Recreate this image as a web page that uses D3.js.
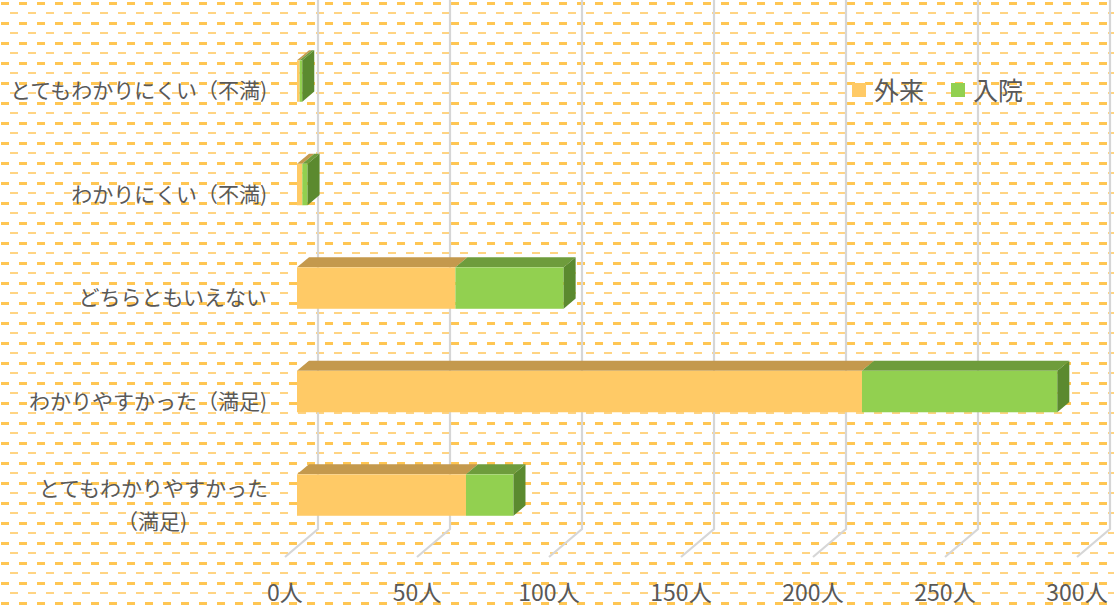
<!DOCTYPE html>
<html>
<head>
<meta charset="utf-8">
<script src="https://cdn.jsdelivr.net/npm/d3@7"></script>
<style>
  body { margin: 0; background: #ffffff; }
  svg { display: block; }
  text { font-family: "Noto Sans CJK JP", "Noto Sans", sans-serif; fill: #595959; }
</style>
</head>
<body>
<div id="chart"></div>
<script>
// chart data
var categories = ["とてもわかりにくい（不満)", "わかりにくい（不満)", "どちらともいえない", "わかりやすかった（満足)", "とてもわかりやすかった（満足)"];
var outpatient = [1, 2, 60, 214, 64];
var inpatient = [1, 2, 41, 74, 18];
var seriesNames = ["外来", "入院"];
var tickValues = [0, 50, 100, 150, 200, 250, 300];
var tickLabels = ["0人", "50人", "100人", "150人", "200人", "250人", "300人"];

var width = 1114, height = 609;

// face colours for each series: front, top, side
var faceColors = [
    {front: "#FFCA66", top: "#C4994D", side: "#A9823E"},
    {front: "#92D050", top: "#6E9C3C", side: "#5B8A2F"}
];

// oblique depth of the whole plot, and where the bars sit in it
var depthX = 33, depthY = -28;
var barZ0 = 12 / 33, barZ1 = 24 / 33;

var svg = d3.select("#chart").append("svg")
    .attr("width", width)
    .attr("height", height);

// dashed background pattern
var defs = svg.append("defs");
var pat = defs.append("pattern")
    .attr("id", "dashes")
    .attr("patternUnits", "userSpaceOnUse")
    .attr("width", 18)
    .attr("height", 20);
pat.append("rect").attr("x", 0).attr("y", 0).attr("width", 18).attr("height", 20).attr("fill", "#ffffff");
pat.append("rect").attr("x", 1).attr("y", 2).attr("width", 8).attr("height", 3).attr("fill", "#FFC653");
pat.append("rect").attr("x", 10).attr("y", 12).attr("width", 8).attr("height", 2).attr("fill", "#FFD483");

svg.append("rect")
    .attr("width", width)
    .attr("height", height)
    .attr("fill", "url(#dashes)");

// scales live on the front plane of the floor
var xScale = d3.scaleLinear()
    .domain([0, 300])
    .range([285, 1077]);

var yScale = d3.scaleBand()
    .domain(categories)
    .range([39.5, 557])
    .paddingInner(0.6)
    .paddingOuter(0.3);

function proj(x, y, z) {
    return [x + depthX * z, y + depthY * z];
}

// gridlines: back wall plus the floor diagonal
var floorY = yScale.range()[1];
svg.append("g")
    .selectAll("path")
    .data(tickValues)
    .enter()
    .append("path")
    .attr("d", function(d) {
        var back = proj(xScale(d), floorY, 1);
        return "M" + back[0] + ",0L" + back[0] + "," + back[1] + "L" + xScale(d) + "," + floorY;
    })
    .attr("fill", "none")
    .attr("stroke", "#D6D6D6")
    .attr("stroke-width", 2.2);

// stacked segments
var segments = [];
categories.forEach(function(c, i) {
    var vals = [outpatient[i], inpatient[i]];
    var start = 0;
    vals.forEach(function(v, s) {
        segments.push({cat: c, s: s, x0: start, x1: start + v, last: s == vals.length - 1});
        start += v;
    });
});

function poly(pts) {
    return "M" + pts.map(function(p) { return p[0] + "," + p[1]; }).join("L") + "Z";
}

var bars = svg.append("g");
segments.forEach(function(d) {
    var xa = xScale(d.x0), xb = xScale(d.x1);
    var yt = yScale(d.cat), yb = yt + yScale.bandwidth();
    if (xb - xa <= 0) return;
    // top face
    bars.append("path")
        .attr("d", poly([proj(xa, yt, barZ0), proj(xb, yt, barZ0), proj(xb, yt, barZ1), proj(xa, yt, barZ1)]))
        .attr("fill", faceColors[d.s].top);
    // front face
    var f0 = proj(xa, yt, barZ0), f1 = proj(xb, yb, barZ0);
    bars.append("rect")
        .attr("x", f0[0])
        .attr("y", f0[1])
        .attr("width", f1[0] - f0[0])
        .attr("height", f1[1] - f0[1])
        .attr("fill", faceColors[d.s].front);
    // right side, only visible at the end of the stack
    if (d.last) {
        bars.append("path")
            .attr("d", poly([proj(xb, yt, barZ0), proj(xb, yt, barZ1), proj(xb, yb, barZ1), proj(xb, yb, barZ0)]))
            .attr("fill", faceColors[d.s].side);
    }
});

// category labels
var labels = svg.append("g");
categories.forEach(function(c) {
    var cy = yScale(c) + yScale.bandwidth() / 2;
    if (c == "とてもわかりやすかった（満足)") {
        labels.append("text")
            .attr("x", 268).attr("y", cy - 9)
            .attr("text-anchor", "end")
            .style("font-size", "21px")
            .text("とてもわかりやすかった");
        labels.append("text")
            .attr("x", 152).attr("y", cy + 24)
            .attr("text-anchor", "middle")
            .style("font-size", "21px")
            .text("（満足)");
    } else {
        labels.append("text")
            .attr("x", 267).attr("y", cy + 7)
            .attr("text-anchor", "end")
            .style("font-size", "21px")
            .text(c);
    }
});

// value axis labels
svg.append("g")
    .selectAll("text")
    .data(tickValues)
    .enter()
    .append("text")
    .attr("x", function(d) { return xScale(d); })
    .attr("y", 601)
    .attr("text-anchor", "middle")
    .style("font-size", "23px")
    .text(function(d, i) { return tickLabels[i]; });

// legend
var legendX = [852, 951];
var legend = svg.append("g");
seriesNames.forEach(function(name, i) {
    legend.append("rect")
        .attr("x", legendX[i]).attr("y", 83)
        .attr("width", 14).attr("height", 14)
        .attr("fill", faceColors[i].front);
    legend.append("text")
        .attr("x", legendX[i] + 22).attr("y", 100)
        .style("font-size", "25px")
        .text(name);
});
</script>
</body>
</html>
